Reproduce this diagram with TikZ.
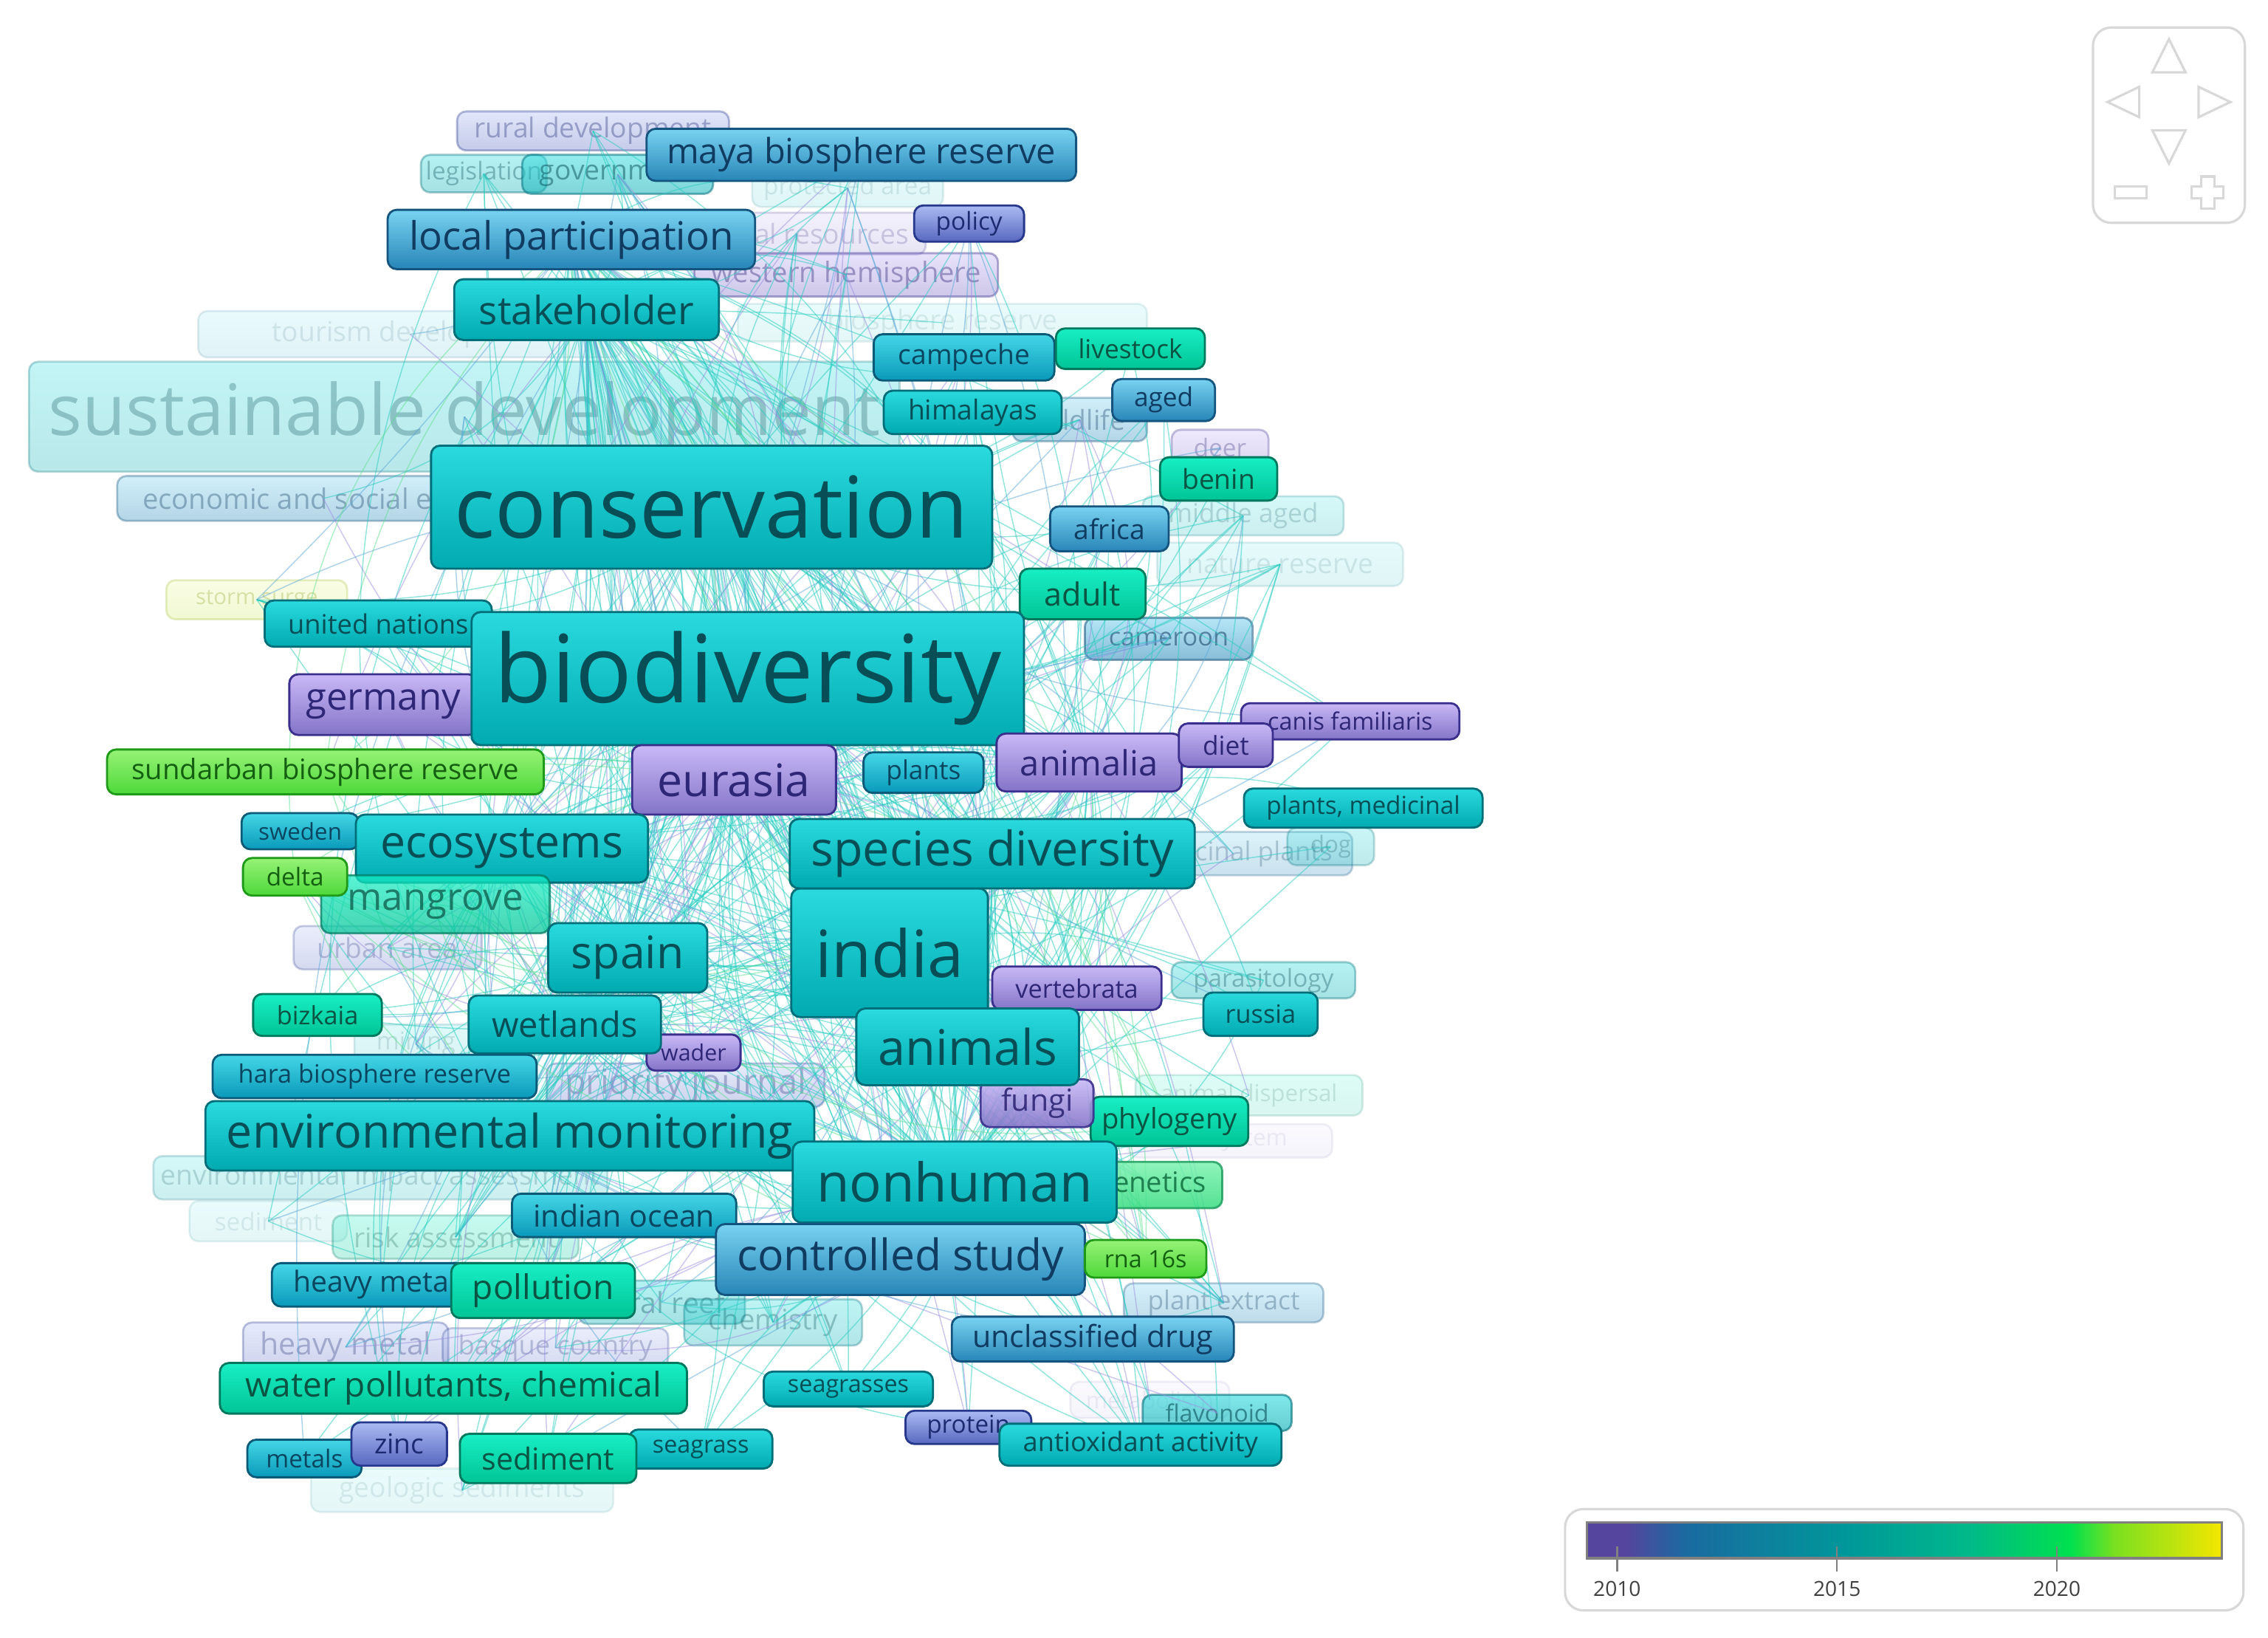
\documentclass[tikz,border=0pt]{standalone}
\usepackage{fontspec}
\setmainfont{Open Sans}
\usetikzlibrary{backgrounds}
\pgfdeclarelayer{faded}
\pgfdeclarelayer{edges}
\pgfsetlayers{faded,edges,main}

% colour families: top, bottom, border, text
\definecolor{tT}{HTML}{2ADADE}\definecolor{bT}{HTML}{00AAB0}\definecolor{dT}{HTML}{006E78}\definecolor{xT}{HTML}{074E56}
\definecolor{tG}{HTML}{18EEC4}\definecolor{bG}{HTML}{00C496}\definecolor{dG}{HTML}{00785E}\definecolor{xG}{HTML}{0A5444}
\definecolor{tL}{HTML}{96F276}\definecolor{bL}{HTML}{4ED83A}\definecolor{dL}{HTML}{1E9A18}\definecolor{xL}{HTML}{145F10}
\definecolor{tN}{HTML}{7CF2B0}\definecolor{bN}{HTML}{36DC80}\definecolor{dN}{HTML}{1E9E5E}\definecolor{xN}{HTML}{0E6E3E}
\definecolor{tB}{HTML}{78D2F0}\definecolor{bB}{HTML}{2886B8}\definecolor{dB}{HTML}{14547E}\definecolor{xB}{HTML}{113C62}
\definecolor{tC}{HTML}{44D6E6}\definecolor{bC}{HTML}{0A9ABA}\definecolor{dC}{HTML}{0A5A78}\definecolor{xC}{HTML}{0A4660}
\definecolor{tP}{HTML}{C8B8F6}\definecolor{bP}{HTML}{8474C8}\definecolor{dP}{HTML}{3A2F8C}\definecolor{xP}{HTML}{2E2676}
\definecolor{tQ}{HTML}{AABAF2}\definecolor{bQ}{HTML}{5868C0}\definecolor{dQ}{HTML}{26388C}\definecolor{xQ}{HTML}{1C2A72}
\definecolor{tY}{HTML}{F0FAB4}\definecolor{bY}{HTML}{D6EC80}\definecolor{dY}{HTML}{B4CC5C}\definecolor{xY}{HTML}{98AC3C}
\definecolor{edgeteal}{HTML}{26CCC0}
\definecolor{edgelav}{HTML}{9C8FE0}
\definecolor{edgeblue}{HTML}{5AA8D8}
\definecolor{edgegreen}{HTML}{60E090}
\definecolor{navgray}{HTML}{D8D8D8}
\definecolor{leg0}{HTML}{55459E}\definecolor{leg1}{HTML}{1A6AA0}\definecolor{leg2}{HTML}{00979A}
\definecolor{leg3}{HTML}{00B88A}\definecolor{leg4}{HTML}{00E04E}\definecolor{leg5}{HTML}{7AE020}\definecolor{leg6}{HTML}{F4E600}

\tikzset{
  kwbox/.style={rectangle,rounded corners=3.5pt,line width=0.8pt,inner sep=0pt},
  fam/.style n args={4}{top color=#1,bottom color=#2,draw=#3,text=#4},
  cT/.style={fam={tT}{bT}{dT}{xT}},
  cG/.style={fam={tG}{bG}{dG}{xG}},
  cL/.style={fam={tL}{bL}{dL}{xL}},
  cN/.style={fam={tN}{bN}{dN}{xN}},
  cB/.style={fam={tB}{bB}{dB}{xB}},
  cC/.style={fam={tC}{bC}{dC}{xC}},
  cP/.style={fam={tP}{bP}{dP}{xP}},
  cQ/.style={fam={tQ}{bQ}{dQ}{xQ}},
  cY/.style={fam={tY}{bY}{dY}{xY}},
  faded/.style={opacity=#1},
  edgeline/.style={line width=0.42pt,draw=#1,opacity=0.5},
  navline/.style={draw=navgray,line width=0.9pt},
}

\newcount\kwn
% \kw{name}{x1}{y1}{x2}{y2}{style}{font px}{text}
\newcommand\kw[8]{%
  \global\advance\kwn by 1\relax
  \edef\kwalias{n\the\kwn}%
  \pgfmathsetmacro\kwW{(#4-#2)*0.5574}%
  \pgfmathsetmacro\kwH{(#5-#3)*0.5574}%
  \pgfmathsetmacro\kwF{#7*0.5574}%
  \node[kwbox,#6,minimum width=\kwW pt,minimum height=\kwH pt,
        font=\fontsize{\kwF}{\kwF}\selectfont,alias=\kwalias]
     (#1) at ({(#2+#4)/2},{(#3+#5)/2}) {#8};}

\begin{document}
\begin{tikzpicture}[x=0.01959cm,y=-0.01959cm]
\useasboundingbox (0,0) rectangle (1568,1132);

% ---------------- faded (background) keywords ----------------
\begin{pgfonlayer}{faded}
\kw{tourism}{137}{215}{430}{247}{cC,faded=0.12}{19}{tourism development}
\kw{bioreserve}{510}{210}{793}{236}{cT,faded=0.1}{19}{biosphere reserve}
\kw{sustainable}{20}{250}{622}{326}{cT,faded=0.28}{49}{sustainable development}
\kw{protected}{520}{117}{652}{143}{cT,faded=0.12}{17}{protected area}
\kw{rural}{316}{77}{504}{104}{cQ,faded=0.35}{19}{rural development}
\kw{legislation}{291}{107}{378}{133}{cT,faded=0.35}{17}{legislation}
\kw{government}{361}{107}{493}{134}{cT,faded=0.5}{19}{government}
\kw{natural}{462}{147}{640}{176}{cP,faded=0.2}{19}{natural resources}
\kw{western}{480}{175}{690}{205}{cP,faded=0.4}{19.5}{western hemisphere}
\kw{economic}{81}{329}{366}{360}{cB,faded=0.35}{19.5}{economic and social effects}
\kw{wildlife}{700}{275}{793}{305}{cB,faded=0.35}{19}{wildlife}
\kw{deer}{810}{297}{877}{322}{cP,faded=0.3}{17}{deer}
\kw{middleaged}{790}{343}{929}{370}{cT,faded=0.2}{18}{middle aged}
\kw{naturereserve}{800}{375}{970}{405}{cT,faded=0.12}{19}{nature reserve}
\kw{storm}{115}{401}{240}{428}{cY,faded=0.35}{15}{storm surge}
\kw{cameroon}{750}{427}{866}{456}{cB,faded=0.55}{17.5}{cameroon}
\kw{medplants}{770}{575}{935}{605}{cB,faded=0.25}{18}{medicinal plants}
\kw{dog}{890}{572}{950}{598}{cT,faded=0.25}{16}{dog}
\kw{urban}{203}{640}{333}{670}{cQ,faded=0.25}{19}{urban area}
\kw{epiphyte}{585}{677}{690}{700}{cQ,faded=0.3}{15}{epiphyte}
\kw{parasitology}{810}{665}{937}{690}{cT,faded=0.35}{17}{parasitology}
\kw{mining}{245}{708}{330}{735}{cT,faded=0.15}{17}{mining}
\kw{priority}{378}{735}{570}{765}{cQ,faded=0.3}{24}{priority journal}
\kw{dispersal}{785}{743}{942}{771}{cG,faded=0.15}{16}{animal dispersal}
\kw{ecosystem}{780}{777}{921}{800}{cP,faded=0.08}{16}{ecosystem}
\kw{eia}{106}{799}{420}{829}{cT,faded=0.2}{19}{environmental impact assessment}
\kw{sedfaint}{131}{830}{240}{858}{cT,faded=0.1}{17}{sediment}
\kw{risk}{230}{840}{400}{870}{cG,faded=0.25}{19}{risk assessment}
\kw{coral}{400}{885}{515}{915}{cT,faded=0.35}{20}{coral reef}
\kw{chemistry}{473}{898}{596}{930}{cT,faded=0.3}{19.5}{chemistry}
\kw{plantextract}{777}{887}{915}{914}{cB,faded=0.3}{18}{plant extract}
\kw{heavymetal}{168}{914}{310}{948}{cQ,faded=0.3}{21}{heavy metal}
\kw{basque}{306}{918}{462}{945}{cQ,faded=0.25}{18.5}{basque country}
\kw{metabolism}{740}{955}{850}{980}{cP,faded=0.08}{16}{metabolism}
\kw{flavonoid}{790}{964}{893}{989}{cT,faded=0.6}{16.5}{flavonoid}
\kw{geologic}{215}{1015}{424}{1045}{cT,faded=0.1}{19}{geologic sediments}
\end{pgfonlayer}

% ---------------- solid keywords ----------------
\kw{maya}{447}{89}{744}{125}{cB}{24}{maya biosphere reserve}
\kw{localpart}{268}{145}{522}{186}{cB,alias=h15}{27}{local participation}
\kw{policy}{632}{142}{708}{167}{cQ}{17}{policy}
\kw{stakeholder}{314}{193}{497}{235}{cT,alias=h12}{27}{stakeholder}
\kw{campeche}{604}{231}{729}{263}{cC}{19}{campeche}
\kw{livestock}{730}{227}{833}{255}{cG}{18}{livestock}
\kw{himalayas}{611}{270}{734}{300}{cT}{19}{himalayas}
\kw{aged}{769}{262}{840}{291}{cB}{18}{aged}
\kw{benin}{802}{316}{883}{346}{cG}{19}{benin}
\kw{africa}{726}{350}{808}{381}{cB}{19}{africa}
\kw{conservation}{298}{308}{686}{393}{cT,alias=h1}{59}{conservation}
\kw{adult}{705}{393}{792}{428}{cG}{22}{adult}
\kw{unitednations}{183}{415}{340}{447}{cT}{18.5}{united nations}
\kw{germany}{200}{466}{330}{508}{cP}{26}{germany}
\kw{biodiversity}{326}{423}{708}{515}{cT,alias=h2}{65}{biodiversity}
\kw{canis}{858}{486}{1009}{511}{cP}{16.5}{canis familiaris}
\kw{animalia}{689}{507}{817}{547}{cP,alias=h14}{24}{animalia}
\kw{diet}{815}{500}{880}{530}{cP}{18}{diet}
\kw{sundarban}{74}{518}{376}{549}{cL,alias=g1}{19.5}{sundarban biosphere reserve}
\kw{eurasia}{437}{515}{578}{563}{cP,alias=h10}{31}{eurasia}
\kw{plants}{597}{520}{680}{548}{cC}{18}{plants}
\kw{plantsmed}{860}{545}{1025}{572}{cT}{17}{plants, medicinal}
\kw{sweden}{167}{562}{248}{587}{cC}{16}{sweden}
\kw{ecosystems}{246}{563}{448}{610}{cT,alias=h7}{31}{ecosystems}
\kw{india}{547}{614}{683}{703}{cT,alias=h3}{45}{india}
\kw{speciesdiv}{546}{566}{826}{614}{cT,alias=h6}{33}{species diversity}
\kw{mangrove}{222}{605}{380}{645}{cG,opacity=0.72,alias=g3}{26}{mangrove}
\kw{delta}{168}{593}{240}{619}{cL,alias=g2}{17}{delta}
\kw{spain}{379}{638}{489}{686}{cT,alias=h11}{31}{spain}
\kw{vertebrata}{686}{668}{803}{698}{cP}{17.5}{vertebrata}
\kw{russia}{832}{686}{911}{716}{cT}{17.5}{russia}
\kw{bizkaia}{175}{687}{264}{716}{cG}{17.5}{bizkaia}
\kw{wader}{447}{715}{512}{740}{cP}{15.5}{wader}
\kw{wetlands}{324}{688}{457}{728}{cT,alias=h13}{24}{wetlands}
\kw{phylogeny}{754}{758}{863}{792}{cG,alias=g4}{19.5}{phylogeny}
\kw{fungi}{678}{746}{756}{779}{cP,opacity=0.9}{21}{fungi}
\kw{animals}{592}{697}{746}{750}{cT,alias=h5}{34}{animals}
\kw{hara}{147}{729}{371}{759}{cC}{17.5}{hara biosphere reserve}
\kw{envmon}{142}{761}{563}{809}{cT,alias=h8}{32}{environmental monitoring}
\kw{genetics}{748}{803}{845}{835}{cN,opacity=0.85}{19.5}{genetics}
\kw{nonhuman}{548}{789}{772}{845}{cT,alias=h4}{37}{nonhuman}
\kw{indianocean}{354}{825}{509}{855}{cC}{21}{indian ocean}
\kw{controlled}{495}{846}{750}{895}{cB,alias=h9}{30}{controlled study}
\kw{rna}{750}{857}{834}{883}{cL,alias=g5}{16.5}{rna 16s}
\kw{heavymetals}{188}{873}{340}{903}{cC}{20}{heavy metals}
\kw{pollution}{312}{873}{439}{911}{cG}{23.5}{pollution}
\kw{unclassified}{658}{910}{853}{941}{cB}{21}{unclassified drug}
\kw{waterpoll}{152}{942}{475}{977}{cG}{23.5}{water pollutants, chemical}
\kw{seagrasses}{528}{948}{645}{972}{cT}{16.5}{seagrasses}
\kw{protein}{626}{975}{713}{998}{cQ}{17}{protein}
\kw{antioxidant}{691}{984}{886}{1013}{cT}{18.5}{antioxidant activity}
\kw{metals}{171}{995}{250}{1021}{cC}{17}{metals}
\kw{zinc}{243}{983}{309}{1013}{cQ}{19}{zinc}
\kw{seagrass}{435}{988}{534}{1015}{cT}{16.5}{seagrass}
\kw{sediment}{318}{991}{440}{1025}{cG}{21}{sediment}

% ---------------- co-occurrence links ----------------
\begin{pgfonlayer}{edges}
\pgfmathsetseed{11}
\foreach \i in {1,...,300}{
  \pgfmathtruncatemacro\ha{random(1,15)}
  \pgfmathtruncatemacro\nb{random(1,\the\kwn)}
  \pgfmathtruncatemacro\bb{random(-30,30)}
  \draw[edgeline=edgeteal] (h\ha.center) to[bend left=\bb] (n\nb.center);
}
\foreach \i in {1,...,160}{
  \pgfmathtruncatemacro\ha{random(1,15)}
  \pgfmathtruncatemacro\hb{random(1,15)}
  \pgfmathtruncatemacro\bb{random(-35,35)}
  \draw[edgeline=edgeteal] (h\ha.center) to[bend left=\bb] (h\hb.center);
}
\foreach \i in {1,...,70}{
  \pgfmathtruncatemacro\ha{random(1,15)}
  \pgfmathtruncatemacro\nb{random(1,\the\kwn)}
  \pgfmathtruncatemacro\bb{random(-30,30)}
  \draw[edgeline=edgelav] (h\ha.center) to[bend left=\bb] (n\nb.center);
}
\foreach \i in {1,...,60}{
  \pgfmathtruncatemacro\ha{random(1,15)}
  \pgfmathtruncatemacro\nb{random(1,\the\kwn)}
  \pgfmathtruncatemacro\bb{random(-30,30)}
  \draw[edgeline=edgeblue] (h\ha.center) to[bend left=\bb] (n\nb.center);
}
\foreach \i in {1,...,30}{
  \pgfmathtruncatemacro\ga{random(1,5)}
  \pgfmathtruncatemacro\ha{random(1,15)}
  \pgfmathtruncatemacro\bb{random(-40,40)}
  \draw[edgeline=edgegreen] (g\ga.center) to[bend left=\bb] (h\ha.center);
}
\end{pgfonlayer}

% ---------------- navigation widget ----------------
\draw[navline,rounded corners=7pt] (1447,19) rectangle (1552,154);
\draw[navline] (1488,50) -- (1511,50) -- (1499.5,27) -- cycle;
\draw[navline] (1488,90) -- (1511,90) -- (1499.5,113) -- cycle;
\draw[navline] (1479,60) -- (1479,81) -- (1457,70.5) -- cycle;
\draw[navline] (1520,60) -- (1520,81) -- (1542,70.5) -- cycle;
\draw[navline] (1462,129) rectangle (1484,137);
\draw[navline] (1522,122) -- (1531,122) -- (1531,129) -- (1537,129) -- (1537,137)
  -- (1531,137) -- (1531,144) -- (1522,144) -- (1522,137) -- (1515,137)
  -- (1515,129) -- (1522,129) -- cycle;

% ---------------- colour legend ----------------
\draw[draw=navgray,line width=0.9pt,rounded corners=7pt] (1082,1043) rectangle (1551,1113);
\shade[left color=leg0,right color=leg0] (1097,1052) rectangle (1125,1077);
\shade[left color=leg0,right color=leg1] (1124.5,1052) rectangle (1165,1077);
\shade[left color=leg1,right color=leg2] (1164.5,1052) rectangle (1275,1077);
\shade[left color=leg2,right color=leg3] (1274.5,1052) rectangle (1360,1077);
\shade[left color=leg3,right color=leg4] (1359.5,1052) rectangle (1432,1077);
\shade[left color=leg4,right color=leg5] (1431.5,1052) rectangle (1462,1077);
\shade[left color=leg5,right color=leg6] (1461.5,1052) rectangle (1536,1077);
\draw[draw=gray,line width=0.9pt] (1097,1052) rectangle (1536,1077);
\foreach \x/\yr in {1118/2010,1270/2015,1422/2020}{
  \draw[draw=gray,line width=0.7pt] (\x,1069) -- (\x,1086);
  \node[font=\fontsize{8}{8}\selectfont,text=black!75] (yr\yr) at (\x,1098) {\yr};
}
\end{tikzpicture}
\end{document}
